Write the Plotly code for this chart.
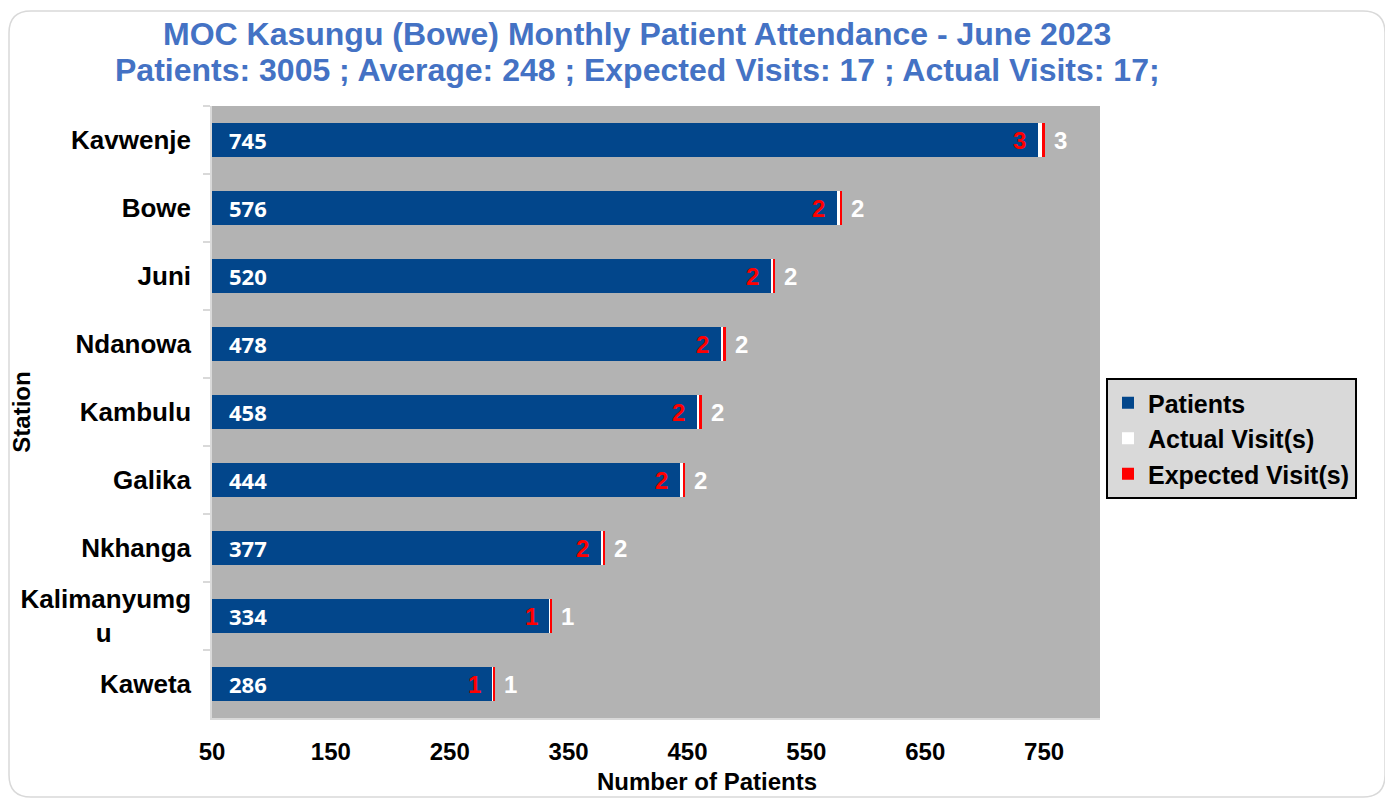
import plotly.graph_objects as go

stations = ["Kavwenje", "Bowe", "Juni", "Ndanowa", "Kambulu", "Galika", "Nkhanga", "Kalimanyumgu", "Kaweta"]
station_labels = ["Kavwenje", "Bowe", "Juni", "Ndanowa", "Kambulu", "Galika", "Nkhanga",
                  "Kalimanyumg<br>u" + "&nbsp;" * 11, "Kaweta"]
patients = [745, 576, 520, 478, 458, 444, 377, 334, 286]
actual_visits = [3, 2, 2, 2, 2, 2, 2, 1, 1]
expected_visits = [3, 2, 2, 2, 2, 2, 2, 1, 1]
x_ticks = [50, 150, 250, 350, 450, 550, 650, 750]

BLUE = "#02468b"
fig = go.Figure()
fig.add_trace(go.Bar(y=station_labels, x=patients, orientation="h", name="<b>Patients</b>",
                     marker=dict(color=BLUE, line=dict(width=0)), width=0.5))
fig.add_trace(go.Bar(y=station_labels, x=actual_visits, orientation="h", name="<b>Actual Visit(s)</b>",
                     marker=dict(color="#ffffff", line=dict(width=0)), width=0.5))
fig.add_trace(go.Bar(y=station_labels, x=expected_visits, orientation="h", name="<b>Expected Visit(s)</b>",
                     marker=dict(color="#ff0000", line=dict(width=0)), width=0.5))

for lab, p, a, e in zip(station_labels, patients, actual_visits, expected_visits):
    fig.add_annotation(x=50, y=lab, text=f"<b>{p}</b>", showarrow=False, xanchor="left", xshift=15,
                       font=dict(family="Open Sans, Arial", size=22, color="white"))
    fig.add_annotation(x=p, y=lab, text=f"<b>{e}</b>", showarrow=False, xanchor="right", xshift=-10,
                       font=dict(family="Arial", size=24, color="#ff0000"))
    fig.add_annotation(x=p + a + e, y=lab, text=f"<b>{a}</b>", showarrow=False, xanchor="left", xshift=7,
                       font=dict(family="Arial", size=24, color="white"))

# Title
fig.add_annotation(xref="paper", yref="paper", x=(637 - 212) / 888, y=(718 - 34) / 612,
                   text="<b>MOC Kasungu (Bowe) Monthly Patient Attendance - June 2023</b>", showarrow=False,
                   xanchor="center", yanchor="middle", font=dict(family="Arial", size=32, color="#4472c4"))
fig.add_annotation(xref="paper", yref="paper", x=(637 - 212) / 888, y=(718 - 70) / 612,
                   text="<b>Patients: 3005 ; Average: 248 ; Expected Visits: 17 ; Actual Visits: 17;</b>",
                   showarrow=False, xanchor="center", yanchor="middle",
                   font=dict(family="Arial", size=32, color="#4472c4"))
# x axis title (offset from plot centre as in the reference)
fig.add_annotation(xref="paper", yref="paper", x=(707 - 212) / 888, y=(718 - 781) / 612,
                   text="<b>Number of Patients</b>", showarrow=False, xanchor="center", yanchor="middle",
                   font=dict(family="Arial", size=24, color="black"))

# rounded outer border
x0, x1 = (9 - 212) / 888, (1385 - 212) / 888
y0, y1 = (718 - 797) / 612, (718 - 11) / 612
rx, ry = 22 / 888, 22 / 612
path = (f"M {x0+rx},{y1} L {x1-rx},{y1} Q {x1},{y1} {x1},{y1-ry} L {x1},{y0+ry} Q {x1},{y0} {x1-rx},{y0} "
        f"L {x0+rx},{y0} Q {x0},{y0} {x0},{y0+ry} L {x0},{y1-ry} Q {x0},{y1} {x0+rx},{y1} Z")
fig.add_shape(type="path", path=path, xref="paper", yref="paper", line=dict(color="#d9d9d9", width=1.5),
              layer="below")

fig.update_layout(
    width=1385, height=793,
    margin=dict(l=204, r=293, t=98, b=83, autoexpand=False),
    paper_bgcolor="white", plot_bgcolor="#b3b3b3",
    barmode="stack", bargap=0.5,
    showlegend=True,
    legend=dict(x=(1106 - 212) / 888, y=(718 - 378) / 612, xanchor="left", yanchor="top",
                bgcolor="#d9d9d9", bordercolor="black", borderwidth=2,
                font=dict(family="Arial", size=25, color="black"), itemsizing="constant",
                traceorder="normal", tracegroupgap=0, itemwidth=30),
    xaxis=dict(range=[50, 797], tickvals=x_ticks, ticktext=[f"<b>{v}</b>" for v in x_ticks],
               showgrid=False, zeroline=False, automargin=False,
               tickfont=dict(family="Arial", size=24, color="black"), ticks="",
               ticklabelstandoff=11,
               showline=True, linecolor="#d9d9d9", linewidth=1.5),
    yaxis=dict(autorange="reversed", showgrid=False, tickson="boundaries", ticks="outside", ticklen=7,
               tickcolor="#d9d9d9", tickwidth=1.5, ticklabelstandoff=14, automargin=False,
               showline=True, linecolor="#d9d9d9", linewidth=1.5,
               tickfont=dict(family="Arial", size=26, color="black"),
               tickprefix="<b>", ticksuffix="</b>",
               title=dict(text="<b>Station</b>", font=dict(family="Arial", size=24, color="black"), standoff=8)),
)

fig.write_html("out.html")
